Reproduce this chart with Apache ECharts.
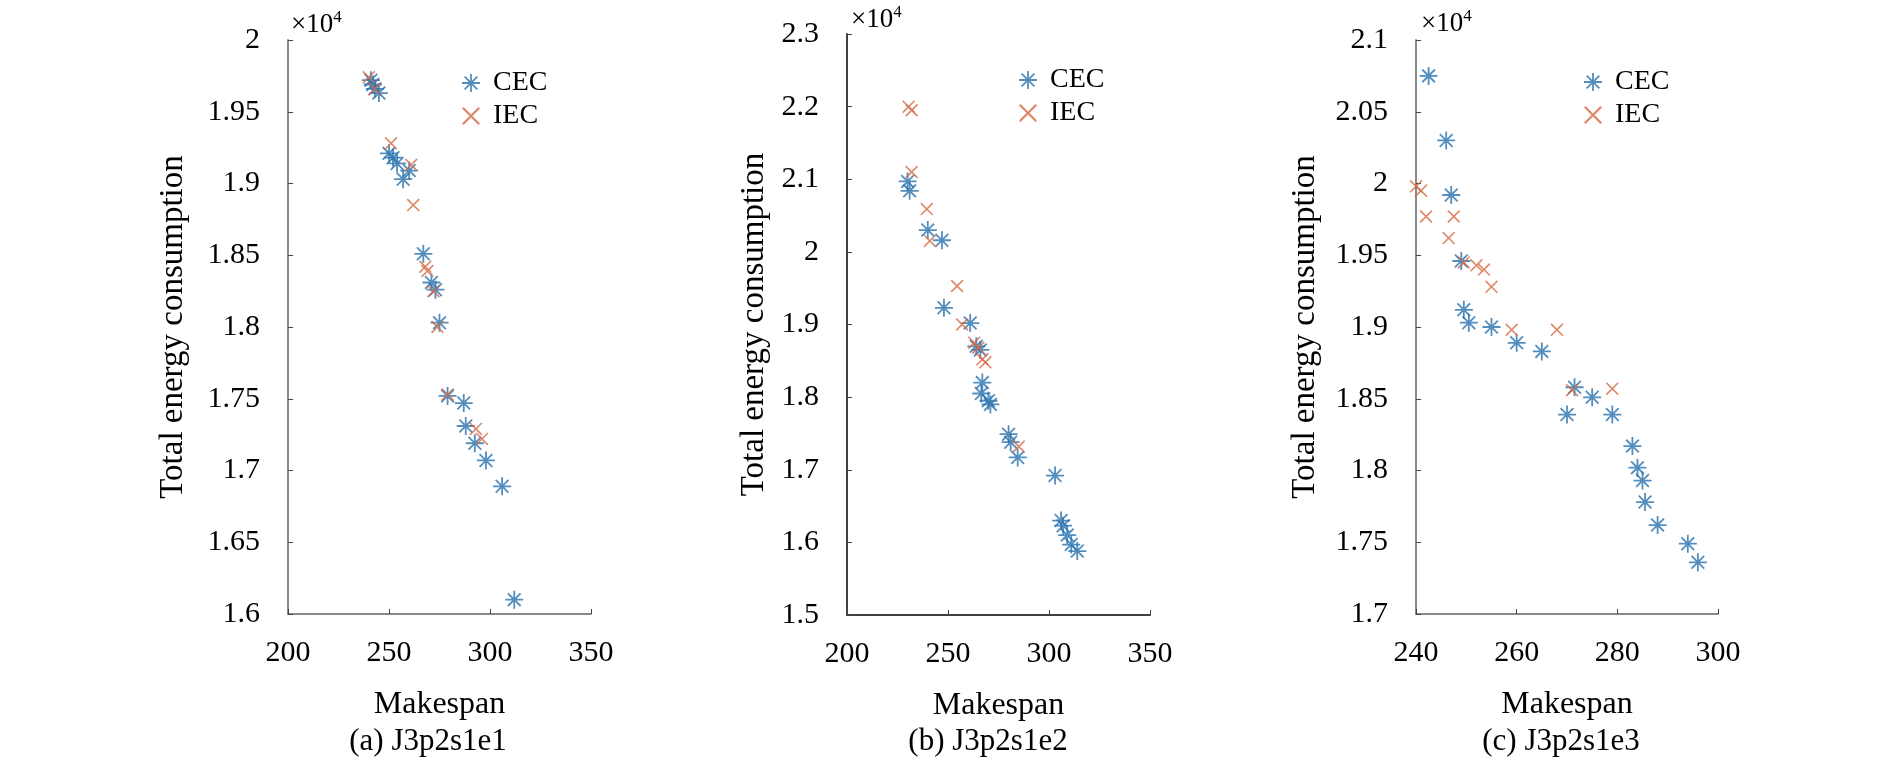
<!DOCTYPE html>
<html>
<head>
<meta charset="utf-8">
<script src="https://cdn.jsdelivr.net/npm/echarts@6/dist/echarts.min.js"></script>
<style>html,body{margin:0;padding:0;background:#fff}#c{width:1890px;height:774px}</style>
</head>
<body>
<div id="c"></div>
<script>
// ---------- data (Makespan, Total energy consumption) ----------
const cecA = [[241,19720],[242,19690],[243,19660],[245,19630],[250,19210],[252,19180],[254,19140],[257,19030],[260,19090],[267,18510],[271,18310],[273,18260],[275,18030],[279,17520],[287,17470],[288,17310],[292.5,17190],[298,17070],[306,16890],[312,16100]];
const iecA = [[240,19740],[243,19660],[251,19280],[261,19130],[262,18850],[268,18420],[269,18390],[272,18250],[274,18000],[279,17530],[293,17290],[296,17220]];

const cecB = [[230,20970],[231,20840],[240,20300],[247,20160],[248,19230],[261,19020],[264,18700],[266,18650],[267,18200],[266.5,18050],[270,17950],[271,17900],[280,17490],[281,17380],[284.5,17170],[303,16920],[306,16300],[307,16230],[309,16100],[311,15970],[314,15880]];
const iecB = [[230.5,22000],[232,21950],[232,21100],[239.5,20590],[241,20150],[254.5,19530],[257,19000],[263,18750],[265,18680],[267,18520],[268.5,18480],[285,17320]];

const cecC = [[242.5,20750],[246,20300],[247,19920],[249,19460],[249.5,19120],[250.5,19030],[255,19000],[260,18890],[265,18830],[271.5,18580],[275,18510],[270,18390],[279,18390],[283,18170],[284,18020],[285,17930],[285.5,17780],[288,17620],[294,17490],[296,17360]];
const iecC = [[240,19980],[241,19950],[242,19770],[247.5,19770],[246.5,19620],[249.5,19450],[252,19430],[253.5,19400],[255,19280],[259,18980],[268,18980],[271,18560],[279,18570]];

const seriesNames = ['CEC','IEC'];
const captions = ['(a) J3p2s1e1','(b) J3p2s1e2','(c) J3p2s1e3'];
const xRanges = [[200,350,50],[200,350,50],[240,300,20]];
const yRanges = [[16000,20000,500],[15000,23000,1000],[17000,21000,500]];
const xName = 'Makespan';
const yName = 'Total energy consumption';
const expLabel = '×10';
const expPow = '4';

// ---------- styling / layout ----------
const FONT = 'Liberation Serif';
const STAR = 'path://M0 9L20 9L20 11L0 11Z M9 0L11 0L11 20L9 20Z M3.64 2.22L17.78 16.36L16.36 17.78L2.22 3.64Z M16.36 2.22L17.78 3.64L3.64 17.78L2.22 16.36Z';
const CROSS = 'path://M1.4 0L16 14.6L14.6 16L0 1.4Z M14.6 0L16 1.4L1.4 16L0 14.6Z';
const BLUE = '#2872ae', ORANGE = '#d66a45';

const grids = [
  {left:288, top:40, width:303, height:574},
  {left:847, top:34, width:303, height:581},
  {left:1416, top:40, width:302, height:574}
];
const axisColors = ['#8a8a8a','#404040','#8a8a8a'];
const yGaps = [98, 76, 94];
const legendPos = [{left:457,top:64},{left:1014,top:61},{left:1579,top:63}];
const expPos = [{left:291,top:9},{left:851,top:4},{left:1421,top:8}];
const capPos = [428, 988, 1561];
const allData = [[cecA,iecA],[cecB,iecB],[cecC,iecC]];

const xAxis = [], yAxis = [], series = [], legend = [], graphic = [];
for (let i = 0; i < 3; i++) {
  const ac = axisColors[i];
  xAxis.push({
    type:'value', gridIndex:i, min:xRanges[i][0], max:xRanges[i][1], interval:xRanges[i][2],
    name:xName, nameLocation:'middle', nameGap:75,
    nameTextStyle:{fontFamily:FONT, fontSize:32, color:'#000'},
    axisLine:{show:true, onZero:false, lineStyle:{color:ac, width:2}},
    axisTick:{show:true, inside:true, length:5, lineStyle:{color:'#444', width:1}},
    axisLabel:{fontFamily:FONT, fontSize:30, color:'#000', margin:24},
    splitLine:{show:false}
  });
  yAxis.push({
    type:'value', gridIndex:i, min:yRanges[i][0], max:yRanges[i][1], interval:yRanges[i][2],
    name:yName, nameLocation:'middle', nameGap:yGaps[i],
    nameTextStyle:{fontFamily:FONT, fontSize:33, color:'#000'},
    axisLine:{show:true, onZero:false, lineStyle:{color:ac, width:2}},
    axisTick:{show:true, inside:true, length:5, lineStyle:{color:'#444', width:1}},
    axisLabel:{fontFamily:FONT, fontSize:30, color:'#000', margin:28,
      formatter: v => String(parseFloat((v/10000).toFixed(2)))},
    splitLine:{show:false}
  });
  series.push({
    name:seriesNames[0], type:'scatter', xAxisIndex:i, yAxisIndex:i,
    data:allData[i][0], symbol:STAR, symbolSize:18, itemStyle:{color:BLUE}
  });
  series.push({
    name:seriesNames[1], type:'scatter', xAxisIndex:i, yAxisIndex:i,
    data:allData[i][1], symbol:CROSS, symbolSize:13, itemStyle:{color:ORANGE}
  });
  legend.push({
    left:legendPos[i].left, top:legendPos[i].top, orient:'vertical',
    itemWidth:18, itemHeight:18, itemGap:5, selectedMode:false,
    data:[{name:'CEC', icon:STAR, itemStyle:{color:BLUE}}, {name:'IEC', icon:CROSS, itemStyle:{color:ORANGE}}],
    textStyle:{fontFamily:FONT, fontSize:28, color:'#000', padding:[0,0,0,8]}
  });
  graphic.push({
    type:'text', left:expPos[i].left, top:expPos[i].top,
    style:{text:'{a|' + expLabel + '}{b|' + expPow + '}',
      rich:{a:{fontFamily:FONT, fontSize:27, fill:'#000', verticalAlign:'bottom'},
            b:{fontFamily:FONT, fontSize:17, fill:'#000', verticalAlign:'top', padding:[0,0,12,0]}}}
  });
  graphic.push({
    type:'text', x:capPos[i], y:726,
    style:{text:captions[i], fontFamily:FONT, fontSize:31, fill:'#000', textAlign:'center', textVerticalAlign:'top'}
  });
}

const chart = echarts.init(document.getElementById('c'));
chart.setOption({
  animation:false,
  backgroundColor:'#fff',
  grid:grids,
  xAxis:xAxis, yAxis:yAxis, series:series, legend:legend, graphic:graphic
});
</script>
</body>
</html>
